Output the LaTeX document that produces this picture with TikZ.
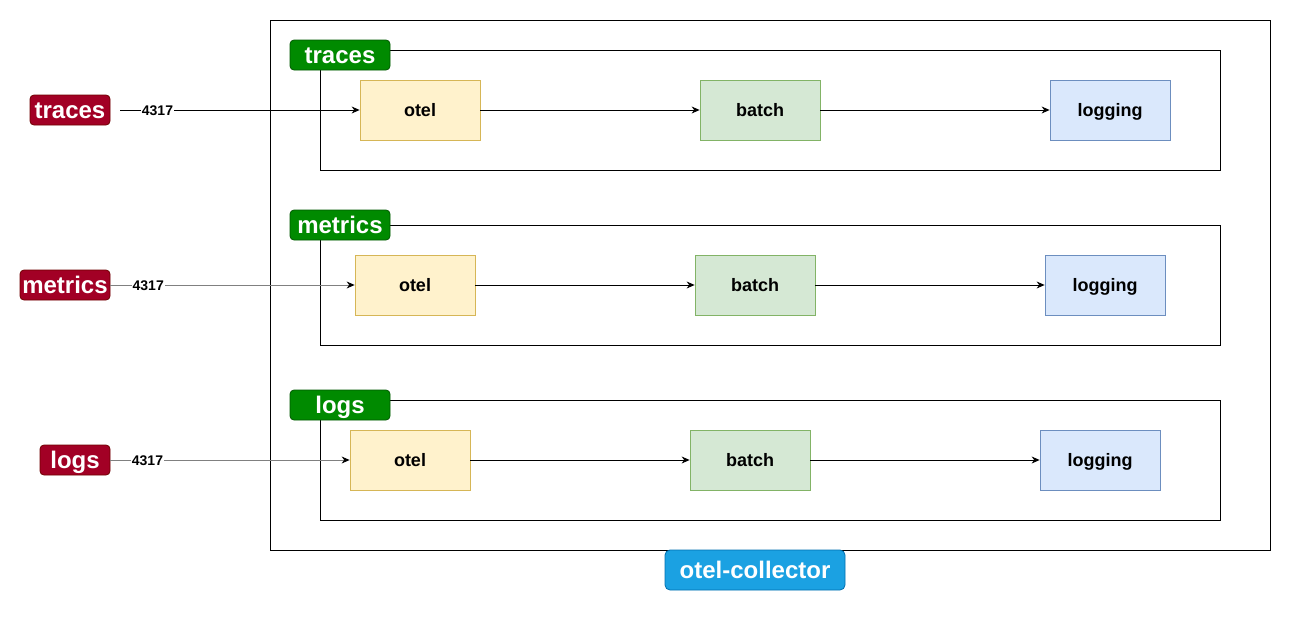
\documentclass[tikz,border=0pt]{standalone}
\usepackage{fontspec}
\setmainfont{Liberation Sans}
\usetikzlibrary{positioning,arrows.meta}

\definecolor{tagfill}{HTML}{008A00}
\definecolor{tagline}{HTML}{005700}
\definecolor{srcfill}{HTML}{A20025}
\definecolor{srcline}{HTML}{6F0000}
\definecolor{colfill}{HTML}{1BA1E2}
\definecolor{colline}{HTML}{006EAF}
\definecolor{otelfill}{HTML}{FFF2CC}
\definecolor{otelline}{HTML}{D6B656}
\definecolor{batchfill}{HTML}{D5E8D4}
\definecolor{batchline}{HTML}{82B366}
\definecolor{logfill}{HTML}{DAE8FC}
\definecolor{logline}{HTML}{6C8EBF}
\definecolor{wire}{HTML}{808080}

\begin{document}
\begin{tikzpicture}[x=1pt, y=-1pt, line width=0.8pt,
  stage/.style = {
    draw, minimum width=120pt, minimum height=60pt, inner sep=0pt,
    text height=16pt, text depth=3pt,
    font=\fontsize{18}{20}\selectfont\bfseries,
  },
  otel box/.style = {stage, fill=otelfill, draw=otelline},
  batch box/.style = {stage, fill=batchfill, draw=batchline},
  logging box/.style = {stage, fill=logfill, draw=logline},
  pipe/.style = {draw, minimum width=900pt, minimum height=120pt, inner sep=0pt},
  badge/.style = {
    rounded corners=4pt, minimum height=30pt, inner sep=0pt, text=white,
    text height=19pt, text depth=3pt,
    font=\fontsize{24}{26}\selectfont\bfseries,
  },
  tag/.style = {badge, fill=tagfill, draw=tagline, minimum width=100pt},
  source/.style = {badge, fill=srcfill, draw=srcline},
  flow/.style = {-{Stealth[length=8pt,width=7pt,black]}},
  port/.style = {fill=white, inner sep=1pt, text=black, yshift=-1pt,
    font=\fontsize{14}{16}\selectfont\bfseries},
]
  \useasboundingbox (0,0) rectangle (1291,621);

  \node[draw, minimum width=1000pt, minimum height=530pt, inner sep=0pt]
    (collector) at (770,285) {};
  \node[badge, fill=colfill, draw=colline, minimum width=180pt,
    minimum height=40pt, rounded corners=5pt] (collector-tag) at (755,570)
    {otel-collector};

  \foreach \row/\y/\ty/\dx/\sx/\sw/\lc/\gap in
    {traces/0/55/0/70/80/black/10, metrics/175/225/5/65/90/wire/0,
     logs/350/405/10/75/70/wire/0}
  {
    \node[pipe] (\row-pipe) at (770,110+\y) {};
    \node[tag] (\row-tag) at (340,\ty) {\row};
    \node[source, minimum width=\sw pt] (\row-src) at (\sx,110+\y) {\row};
    \node[otel box] (\row-otel) at (420-\dx,110+\y) {otel};
    \node[batch box] (\row-batch) at (760-\dx,110+\y) {batch};
    \node[logging box] (\row-logging) at (1110-\dx,110+\y) {logging};
    \draw[flow, draw=\lc] ([xshift=\gap pt]\row-src.east) -- (\row-otel.west)
      node[port, pos=0.155] {4317};
    \draw[flow] (\row-otel) -- (\row-batch);
    \draw[flow] (\row-batch) -- (\row-logging);
  }
\end{tikzpicture}
\end{document}
